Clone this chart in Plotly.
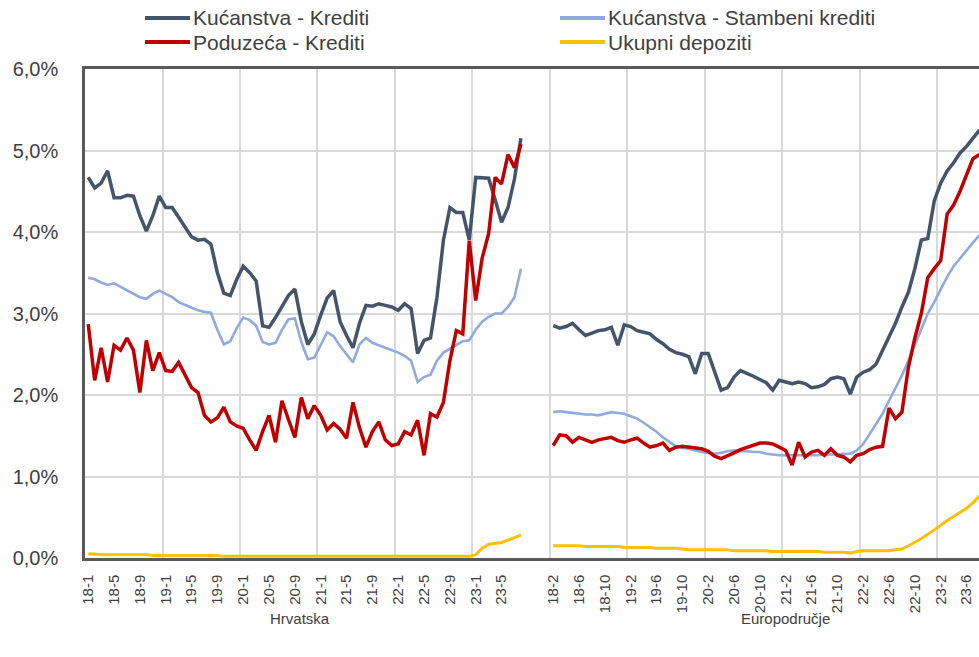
import plotly.graph_objects as go

# ---------------- data ----------------
# category labels (year-month), Croatia 2018-01 .. 2023-08, euro area 2018-02 .. 2023-08
hr_months = [f"{18 + i // 12}-{i % 12 + 1}" for i in range(68)]
ea_months = [f"{18 + (i + 1) // 12}-{(i + 1) % 12 + 1}" for i in range(67)]
gap_categories = 4          # empty categories between the two groups
label_step = 4              # every 4th category labelled
grid_step = 12              # vertical grid line every 12 categories

group_titles = ["Hrvatska", "Europodručje"]
series_names = ["Kućanstva - Krediti", "Kućanstva - Stambeni krediti",
                "Poduzeća - Krediti", "Ukupni depoziti"]

y_ticks = [0, 1, 2, 3, 4, 5, 6]
y_tick_labels = ["0,0%", "1,0%", "2,0%", "3,0%", "4,0%", "5,0%", "6,0%"]

hr_kuc_krediti = [4.67, 4.54, 4.60, 4.75, 4.42, 4.42, 4.45, 4.44, 4.20, 4.01,
                  4.20, 4.44, 4.30, 4.30, 4.18, 4.05, 3.94, 3.90, 3.91, 3.85,
                  3.50, 3.25, 3.22, 3.42, 3.58, 3.50, 3.40, 2.85, 2.83, 2.95,
                  3.08, 3.22, 3.30, 2.90, 2.62, 2.75, 2.98, 3.19, 3.28, 2.90,
                  2.73, 2.58, 2.88, 3.10, 3.09, 3.12, 3.10, 3.08, 3.04, 3.12,
                  3.06, 2.51, 2.67, 2.70, 3.20, 3.90, 4.30, 4.24, 4.24, 3.90,
                  4.67, 4.67, 4.66, 4.40, 4.12, 4.30, 4.65, 5.15]
hr_kuc_stambeni = [3.44, 3.42, 3.38, 3.35, 3.37, 3.33, 3.28, 3.25, 3.20, 3.18,
                   3.24, 3.28, 3.24, 3.20, 3.14, 3.10, 3.07, 3.04, 3.02, 3.01,
                   2.80, 2.62, 2.66, 2.82, 2.95, 2.92, 2.85, 2.65, 2.62, 2.64,
                   2.80, 2.93, 2.94, 2.65, 2.44, 2.46, 2.62, 2.77, 2.72, 2.60,
                   2.50, 2.40, 2.62, 2.70, 2.64, 2.61, 2.58, 2.55, 2.52, 2.48,
                   2.42, 2.16, 2.22, 2.25, 2.42, 2.52, 2.57, 2.62, 2.66, 2.67,
                   2.80, 2.90, 2.96, 3.00, 3.00, 3.08, 3.20, 3.55]
hr_poduzeca = [2.87, 2.18, 2.58, 2.16, 2.61, 2.55, 2.70, 2.55, 2.03, 2.67,
               2.30, 2.52, 2.30, 2.29, 2.40, 2.25, 2.09, 2.03, 1.75, 1.67,
               1.72, 1.85, 1.67, 1.62, 1.59, 1.45, 1.32, 1.55, 1.75, 1.42,
               1.93, 1.70, 1.48, 1.97, 1.71, 1.87, 1.75, 1.57, 1.65, 1.58,
               1.47, 1.91, 1.60, 1.36, 1.55, 1.67, 1.45, 1.38, 1.40, 1.55,
               1.51, 1.69, 1.26, 1.77, 1.73, 1.91, 2.42, 2.79, 2.75, 3.89,
               3.16, 3.68, 3.98, 4.67, 4.59, 4.95, 4.79, 5.08]
hr_depoziti = [0.05, 0.05, 0.04, 0.04, 0.04, 0.04, 0.04, 0.04, 0.04, 0.04,
               0.03, 0.03, 0.03, 0.03, 0.03, 0.03, 0.03, 0.03, 0.03, 0.03,
               0.03, 0.02, 0.02, 0.02, 0.02, 0.02, 0.02, 0.02, 0.02, 0.02,
               0.02, 0.02, 0.02, 0.02, 0.02, 0.02, 0.02, 0.02, 0.02, 0.02,
               0.02, 0.02, 0.02, 0.02, 0.02, 0.02, 0.02, 0.02, 0.02, 0.02,
               0.02, 0.02, 0.02, 0.02, 0.02, 0.02, 0.02, 0.02, 0.02, 0.02,
               0.04, 0.12, 0.17, 0.18, 0.19, 0.22, 0.25, 0.28]

ea_kuc_krediti = [2.85, 2.82, 2.84, 2.88, 2.80, 2.73, 2.76, 2.79, 2.80, 2.83,
                  2.61, 2.86, 2.84, 2.79, 2.77, 2.75, 2.68, 2.63, 2.56, 2.52,
                  2.50, 2.47, 2.26, 2.51, 2.51, 2.30, 2.06, 2.09, 2.22, 2.30,
                  2.27, 2.23, 2.19, 2.15, 2.06, 2.18, 2.16, 2.14, 2.16, 2.14,
                  2.09, 2.10, 2.13, 2.20, 2.22, 2.20, 2.01, 2.22, 2.28, 2.31,
                  2.38, 2.55, 2.70, 2.88, 3.08, 3.26, 3.55, 3.90, 3.92, 4.38,
                  4.60, 4.75, 4.85, 4.97, 5.05, 5.15, 5.25]
ea_kuc_stambeni = [1.79, 1.80, 1.79, 1.78, 1.77, 1.76, 1.76, 1.75, 1.77, 1.79,
                   1.78, 1.77, 1.74, 1.71, 1.66, 1.61, 1.55, 1.48, 1.42, 1.37,
                   1.35, 1.34, 1.32, 1.30, 1.29, 1.28, 1.29, 1.31, 1.32, 1.31,
                   1.31, 1.30, 1.30, 1.28, 1.27, 1.26, 1.26, 1.26, 1.26, 1.26,
                   1.26, 1.26, 1.27, 1.27, 1.27, 1.28, 1.28, 1.32, 1.40, 1.52,
                   1.64, 1.77, 1.93, 2.08, 2.24, 2.42, 2.62, 2.82, 3.00, 3.14,
                   3.30, 3.45, 3.58, 3.68, 3.77, 3.87, 3.96]
ea_poduzeca = [1.38, 1.51, 1.50, 1.42, 1.48, 1.45, 1.42, 1.45, 1.47, 1.48,
               1.44, 1.42, 1.45, 1.47, 1.41, 1.36, 1.38, 1.41, 1.32, 1.36,
               1.37, 1.36, 1.36, 1.34, 1.31, 1.25, 1.22, 1.25, 1.29, 1.33,
               1.36, 1.38, 1.41, 1.41, 1.40, 1.36, 1.32, 1.14, 1.42, 1.24,
               1.30, 1.32, 1.26, 1.34, 1.26, 1.24, 1.18, 1.26, 1.28, 1.33,
               1.36, 1.37, 1.84, 1.71, 1.79, 2.34, 2.70, 3.00, 3.44, 3.55,
               3.65, 4.22, 4.33, 4.50, 4.71, 4.90, 4.95]
ea_depoziti = [0.15, 0.15, 0.15, 0.15, 0.15, 0.14, 0.14, 0.14, 0.14, 0.14,
               0.14, 0.13, 0.13, 0.13, 0.13, 0.13, 0.12, 0.12, 0.12, 0.12,
               0.11, 0.10, 0.10, 0.10, 0.10, 0.10, 0.10, 0.10, 0.09, 0.09,
               0.09, 0.09, 0.09, 0.09, 0.08, 0.08, 0.08, 0.08, 0.08, 0.08,
               0.08, 0.08, 0.07, 0.07, 0.07, 0.07, 0.06, 0.08, 0.09, 0.09,
               0.09, 0.09, 0.09, 0.10, 0.11, 0.15, 0.19, 0.24, 0.29, 0.34,
               0.40, 0.46, 0.51, 0.56, 0.61, 0.68, 0.76]

# ---------------- styling ----------------
colors = ["#44546A", "#8FAADC", "#C00000", "#FFC000"]
widths = [3.5, 2.6, 3.5, 3.0]
FONT = "Liberation Sans, Arial, sans-serif"
TXT = "#404040"

# ---------------- positions on the shared category axis ----------------
hr_x = list(range(len(hr_months)))
ea_start = len(hr_months) + gap_categories
ea_x = [ea_start + k for k in range(len(ea_months))]
tickvals = hr_x[::label_step] + ea_x[::label_step]
ticktext = hr_months[::label_step] + ea_months[::label_step]
n_total = ea_start + len(ea_months) + 8
grid_x = [g - 0.5 for g in range(grid_step, n_total, grid_step)]

fig = go.Figure()
hr_series = [hr_kuc_krediti, hr_kuc_stambeni, hr_poduzeca, hr_depoziti]
ea_series = [ea_kuc_krediti, ea_kuc_stambeni, ea_poduzeca, ea_depoziti]
for i in range(4):
    for xs, ys in ((hr_x, hr_series[i]), (ea_x, ea_series[i])):
        fig.add_trace(go.Scatter(
            x=xs, y=ys, mode="lines", name=series_names[i], showlegend=False,
            line=dict(color=colors[i], width=widths[i]), hoverinfo="skip"))

# plot-area geometry (pixels)
W, H = 979, 657
L, R, T, B = 85, 0, 69, 99
pw, ph = W - L - R, H - T - B
px_per_cat = 6.458


def px_x(p):
    return (p - L) / pw


def px_y(p):
    return (H - B - p) / ph


# legend (manual, two columns)
leg_pos = [(145, 18), (560, 18), (145, 42), (560, 42)]
for (lx, ly), name, col in zip(leg_pos, series_names, colors):
    fig.add_shape(type="line", xref="paper", yref="paper",
                  x0=px_x(lx), x1=px_x(lx + 45), y0=px_y(ly), y1=px_y(ly),
                  line=dict(color=col, width=4))
    fig.add_annotation(x=px_x(lx + 46), y=px_y(ly), xref="paper", yref="paper",
                       text=name, showarrow=False, xanchor="left", yanchor="middle",
                       font=dict(family=FONT, size=21, color=TXT))

# group titles
for title, px in zip(group_titles, (300, 785)):
    fig.add_annotation(x=px_x(px), y=px_y(618), xref="paper", yref="paper",
                       text=title, showarrow=False, xanchor="center", yanchor="middle",
                       font=dict(family=FONT, size=15, color=TXT))

fig.update_layout(
    width=W, height=H,
    margin=dict(l=L, r=R, t=T, b=B, pad=0, autoexpand=False),
    paper_bgcolor="white", plot_bgcolor="white",
    font=dict(family=FONT, color=TXT),
    showlegend=False,
    xaxis=dict(
        range=[-0.5, -0.5 + pw / px_per_cat], automargin=False,
        tickmode="array", tickvals=tickvals, ticktext=ticktext,
        tickangle=-90, tickfont=dict(family=FONT, size=15, color=TXT),
        ticks="", ticklabelstandoff=8,
        showgrid=False, zeroline=False,
        minor=dict(tickmode="array", tickvals=grid_x, showgrid=True,
                   gridcolor="#D9D9D9", gridwidth=2, ticks=""),
        showline=True, linecolor="#595959", linewidth=2.5, mirror=True,
    ),
    yaxis=dict(
        range=[0, 6], automargin=False,
        tickmode="array", tickvals=y_ticks, ticktext=y_tick_labels,
        tickfont=dict(family=FONT, size=20, color=TXT),
        ticks="", ticklabelstandoff=20,
        showgrid=True, gridcolor="#D9D9D9", gridwidth=2, zeroline=False,
        showline=True, linecolor="#595959", linewidth=2.5,
    ),
)

fig.write_html(
    "out.html",
    config={"displayModeBar": False},
    post_script="document.body.style.margin='0';document.body.style.overflow='hidden';",
)
